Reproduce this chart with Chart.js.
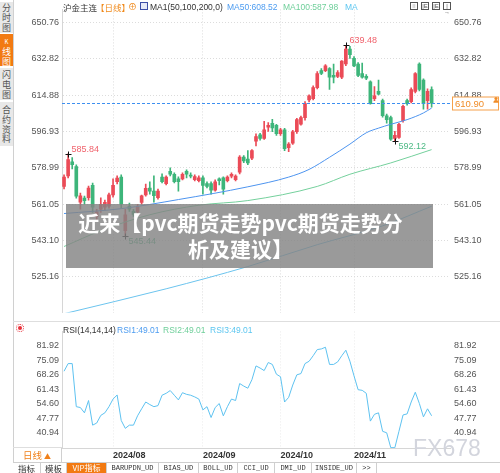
<!DOCTYPE html>
<html lang="zh-CN">
<head>
<meta charset="UTF-8">
<title>沪金主连 日线</title>
<script src="https://cdn.jsdelivr.net/npm/chart.js@4.4.1/dist/chart.umd.min.js"></script>
<style>
  * { box-sizing: border-box; margin: 0; padding: 0; }
  body { width: 500px; height: 473px; overflow: hidden; background: #fff;
         font-family: 'Liberation Sans', 'Noto Sans CJK SC', sans-serif; color: #333; }
  #wrap { position: relative; width: 500px; height: 473px; }
  canvas { position: absolute; left: 0; }
  #c-main { top: 0; }
  #c-rsi { top: 322px; }
  .abs { position: absolute; white-space: nowrap; }
  .hdr { font-size: 8.5px; line-height: 12px; top: 1px; }
  .cjk { font-family: 'Noto Sans CJK SC', sans-serif; }
  .side { position: absolute; left: 0; top: 0; width: 14px; height: 462px; border-right: 1px solid #d0d0d0; background: #fff; }
  .side div { position: absolute; left: 0; width: 13px; background: #e8e8e8; color: #555;
              font-family: 'Noto Sans CJK SC', sans-serif; font-size: 9px; line-height: 9.8px; text-align: center; }
  .side div.on { background: #f27a12; color: #fff; }
  .line { position: absolute; background: #dedede; }
  .tabs { position: absolute; left: 13px; top: 462px; width: 487px; height: 11px; border-top: 1px solid #cfcfcf; display: flex; }
  .tabs span { height: 10px; border-right: 1px solid #cfcfcf; font-size: 7px; line-height: 10px; text-align: center; color: #333;
               font-family: 'Liberation Mono', monospace; }
  .tabs span.cn { font-family: 'Noto Sans CJK SC', sans-serif; font-size: 8.5px; }
  .tabs span.vip { background: #f27a12; color: #fff; font-family: 'Noto Sans CJK SC', sans-serif; font-size: 8px; }
  .ico { position: absolute; top: 2px; width: 8px; height: 8px; border: 1px solid #555; font-size: 6px; line-height: 6px; text-align: center; color: #555; }
  #banner { position: absolute; left: 66px; top: 204px; width: 367px; height: 64px; padding: 5px 18px 0 0;
            background: rgba(132, 132, 132, 0.82); color: #fff; text-align: center;
            font-family: 'Noto Sans CJK SC', sans-serif; font-weight: 700; font-size: 21px; line-height: 26px; }
  #wm { position: absolute; left: 413px; top: 437px; font-size: 23px; line-height: 23px; color: #d3d5dd; }
</style>
</head>
<body>
<div id="wrap">
  <canvas id="c-main" width="500" height="322"></canvas>
  <canvas id="c-rsi" width="500" height="140"></canvas>

  <div class="side">
    <div style="top:2px;height:31px;padding-top:1px">分<br>时<br>图</div>
    <div class="on" style="top:34px;height:32px;padding-top:2px"><span style="font-size:6px">K</span><br>线<br>图</div>
    <div style="top:68px;height:32px;padding-top:2px">闪<br>电<br>图</div>
    <div style="top:102px;height:44px;padding-top:3px">合<br>约<br>资<br>料</div>
  </div>

  <!-- main header -->
  <span class="abs hdr cjk" style="left:63px;color:#333">沪金主连</span>
  <span class="abs hdr cjk" style="left:96px;color:#f08a1c">【日线】</span>
  <span class="abs hdr" style="left:128px;color:#f08a1c;font-size:9px">⊕</span>
  <span class="abs" style="left:140px;top:2px;width:8px;height:8px;border:1px solid #3d4fa8;background:#e6eaf8"></span>
  <span class="abs hdr" style="left:150px;color:#333">MA1(50,100,200,0)</span>
  <span class="abs hdr" style="left:227px;color:#4d9cf0">MA50:608.52</span>
  <span class="abs hdr" style="left:283px;color:#6fcf9a">MA100:587.98</span>
  <span class="abs hdr" style="left:345px;color:#5cc6f0">MA</span>
  <span class="ico" style="left:410px">⁞⁞</span>
  <span class="ico" style="left:421px">|E</span>
  <span class="ico" style="left:432px">|E</span>
  <span class="ico" style="left:443px">|→</span>

  <!-- panel separators -->
  <div class="line" style="left:13px;top:321px;width:487px;height:1px"></div>
  <div class="line" style="left:13px;top:447px;width:49px;height:1px"></div>

  <!-- rsi header -->
  <span class="abs" style="left:16px;top:324px;width:8px;height:8px;border:1px dotted #e8303a;border-radius:50%"></span>
  <span class="abs" style="left:18px;top:326px;width:4px;height:4px;background:#e8303a;border-radius:50%"></span>
  <span class="abs hdr" style="top:324px;left:63px;color:#333">RSI(14,14,14)</span>
  <span class="abs hdr" style="top:324px;left:117px;color:#4d9cf0">RSI1:49.01</span>
  <span class="abs hdr" style="top:324px;left:163px;color:#6fcf9a">RSI2:49.01</span>
  <span class="abs hdr" style="top:324px;left:210px;color:#5cc6f0">RSI3:49.01</span>

  <!-- period box -->
  <div class="abs cjk" style="left:13px;top:448px;width:49px;height:14px;border-right:1px solid #d0d0d0;
       color:#f0801a;font-size:9.5px;line-height:14px;text-align:center">日线 <span style="font-size:7px">▲</span></div>

  <div class="tabs">
    <span class="cn" style="width:28px">指标</span>
    <span class="cn" style="width:26px">模板</span>
    <span class="vip" style="width:40px">VIP指标</span>
    <span style="width:52px">BARUPDN_UD</span>
    <span style="width:40px">BIAS_UD</span>
    <span style="width:39px">BOLL_UD</span>
    <span style="width:37px">CCI_UD</span>
    <span style="width:37px">DMI_UD</span>
    <span style="width:45px">INSIDE_UD</span>
    <span style="width:20px">&gt;&gt;</span>
  </div>

  <div id="banner">近来【pvc期货走势pvc期货走势分<br>析及建议】</div>
  <div id="wm">FX678</div>
</div>

<script>
// trading days, 2024-07-16 .. 2024-11-28
const DATES = [
  '07-16','07-17','07-18','07-19','07-22','07-23','07-24','07-25','07-26','07-29','07-30','07-31',
  '08-01','08-02','08-05','08-06','08-07','08-08','08-09','08-12','08-13','08-14','08-15','08-16',
  '08-19','08-20','08-21','08-22','08-23','08-26','08-27','08-28','08-29','08-30',
  '09-02','09-03','09-04','09-05','09-06','09-09','09-10','09-11','09-12','09-13',
  '09-18','09-19','09-20','09-23','09-24','09-25','09-26','09-27','09-30',
  '10-08','10-09','10-10','10-11','10-14','10-15','10-16','10-17','10-18',
  '10-21','10-22','10-23','10-24','10-25','10-28','10-29','10-30','10-31',
  '11-01','11-04','11-05','11-06','11-07','11-08','11-11','11-12','11-13','11-14','11-15',
  '11-18','11-19','11-20','11-21','11-22','11-25','11-26','11-27','11-28'
];
const PAD_SLOTS = 4; // empty room right of the last candle

const OPEN = [
  569.8, 575.0, 582.0, 579.6, 562.0, 564.0, 564.2, 570.3, 555.0, 558.6,
  559.5, 560.0, 565.6, 572.1, 574.4, 547.9, 560.0, 557.5, 557.2, 561.9,
  565.6, 569.0, 567.5, 564.2, 574.4, 571.2, 577.2, 575.8, 573.5, 573.5,
  577.2, 575.3, 573.1, 572.6, 574.0, 571.2, 571.2, 568.0, 573.5, 574.0,
  572.6, 574.9, 573.1, 576.8, 584.3, 583.3, 583.8, 592.1, 595.3, 593.5,
  599.1, 601.0, 600.0, 595.8, 597.7, 588.9, 591.2, 596.8, 600.5, 603.8,
  612.6, 613.1, 618.6, 627.0, 627.0, 628.0, 624.7, 624.2, 623.8, 630.3,
  637.7, 633.1, 630.3, 625.6, 624.2, 621.5, 613.1, 616.8, 612.2, 604.7,
  603.8, 593.5, 594.0, 602.3, 612.2, 611.7, 616.8, 630.3, 622.4, 612.2,
  617.7
];
const HIGH = [
  575.5, 585.84, 584.0, 580.5, 566.5, 565.0, 570.0, 571.5, 558.5, 564.2,
  563.0, 566.5, 573.5, 575.0, 575.5, 558.5, 561.5, 558.5, 561.0, 565.5,
  571.0, 572.0, 575.0, 568.5, 576.0, 575.0, 579.0, 576.5, 574.5, 576.5,
  578.0, 576.5, 575.5, 575.0, 575.0, 572.0, 572.0, 573.0, 574.0, 574.5,
  575.0, 576.5, 575.5, 585.0, 585.0, 587.5, 588.0, 595.8, 596.0, 602.0,
  601.4, 603.0, 600.5, 598.5, 598.5, 591.5, 597.5, 603.5, 604.5, 611.7,
  615.0, 619.5, 626.5, 628.0, 630.0, 628.5, 630.3, 627.0, 632.0, 639.48,
  639.0, 634.0, 631.0, 630.8, 625.0, 622.0, 619.1, 622.4, 613.0, 605.5,
  604.5, 597.0, 601.0, 610.0, 613.0, 618.5, 626.0, 630.9, 623.0, 618.0,
  619.0
];
const LOW = [
  568.5, 574.0, 578.5, 564.0, 558.5, 561.0, 563.0, 557.0, 553.5, 557.0,
  558.0, 559.0, 564.5, 571.0, 559.0, 545.44, 557.5, 555.0, 556.0, 561.0,
  565.0, 566.0, 562.0, 563.5, 571.5, 570.5, 575.0, 571.5, 567.5, 573.0,
  574.0, 574.0, 572.5, 572.0, 566.0, 569.0, 566.0, 567.5, 570.5, 566.0,
  572.0, 574.0, 572.5, 576.0, 581.5, 580.5, 583.0, 589.8, 592.6, 593.0,
  597.0, 596.8, 595.0, 595.0, 587.5, 587.0, 590.5, 596.0, 600.0, 602.5,
  611.5, 612.5, 618.0, 625.0, 626.5, 617.7, 621.0, 623.5, 623.0, 629.5,
  633.0, 629.0, 624.0, 623.3, 622.5, 610.5, 612.2, 615.0, 604.0, 601.0,
  592.5, 592.12, 593.5, 601.5, 610.0, 611.0, 616.0, 617.0, 608.0, 608.0,
  609.0
];
const CLOSE = [
  574.4, 583.0, 580.5, 565.0, 565.2, 562.8, 569.0, 559.6, 557.2, 560.9,
  561.9, 565.6, 570.3, 573.9, 561.0, 555.8, 558.5, 556.0, 559.6, 565.2,
  568.9, 567.5, 565.2, 567.5, 572.1, 574.4, 575.8, 572.1, 572.1, 575.8,
  575.8, 574.9, 574.6, 574.0, 570.3, 569.8, 568.0, 572.1, 572.6, 568.4,
  574.4, 575.8, 574.9, 584.3, 582.4, 581.4, 587.5, 594.4, 593.5, 597.7,
  600.0, 598.7, 595.8, 597.7, 588.4, 590.7, 596.8, 602.8, 603.8, 610.7,
  614.5, 618.6, 625.6, 625.6, 629.4, 623.8, 623.8, 626.1, 631.7, 637.7,
  634.9, 629.4, 624.7, 623.8, 623.3, 610.7, 614.5, 615.4, 604.7, 602.8,
  593.1, 595.0, 600.5, 609.4, 610.7, 617.7, 625.6, 617.7, 610.7, 616.8,
  610.90
];

// moving averages, read where the curves could be measured
const MA50_AT  = [0, 14, 28, 45, 55, 60, 65, 70, 74, 77, 80, 84, 88, 90];
const MA50_VAL = [556.4, 558.8, 563.3, 569.6, 574.4, 578.2, 584.2, 590.7, 596.3, 598.6, 600.5, 602.8, 606.1, 608.52];
const MA100_AT  = [0, 9, 21, 33, 45, 62, 70, 80, 90];
const MA100_VAL = [540.1, 547.9, 555.8, 560.5, 562.8, 569.8, 575.8, 581.4, 587.98];
const MA200_AT  = [0, 25, 45, 62, 78, 90];
const MA200_VAL = [506.9, 519.2, 530.2, 541.0, 550.3, 560.0];

const RSI = [
  70.0, 73.6, 73.6, 53.3, 52.9, 50.4, 56.2, 44.6, 45.6, 49.2,
  50.4, 53.3, 56.9, 58.8, 46.8, 43.1, 44.6, 44.6, 49.0, 52.3,
  55.5, 54.3, 53.3, 53.8, 58.7, 59.6, 60.9, 58.7, 56.5, 59.9,
  59.1, 58.7, 57.9, 56.9, 51.8, 53.3, 48.2, 52.9, 54.8, 49.0,
  53.3, 56.9, 56.2, 64.2, 63.0, 62.0, 66.0, 72.5, 71.5, 70.3,
  74.1, 73.2, 68.6, 67.4, 55.5, 57.7, 63.5, 68.3, 68.9, 73.6,
  74.7, 77.3, 80.2, 80.5, 81.3, 73.2, 73.2, 74.4, 77.3, 79.9,
  74.7, 67.8, 61.3, 61.0, 59.6, 46.5, 49.7, 50.4, 41.7, 41.0,
  34.0, 34.0, 41.7, 49.4, 49.9, 55.5, 60.1, 54.8, 48.5, 52.3,
  49.01
];

const MAIN_TICKS = [650.76, 632.82, 614.88, 596.93, 578.99, 561.05, 543.10, 525.16];
const MAIN_MIN = 507.44, MAIN_MAX = 657.27;
const RSI_TICKS = [81.92, 75.09, 68.26, 61.43, 54.60, 47.77, 40.94];
const RSI_MIN = 33.84, RSI_MAX = 88.76;

const MONTH_IDX = [12, 34, 53, 71];
const MONTH_LABELS = ['2024/08', '2024/09', '2024/10', '2024/11'];

const LAST_PRICE = 610.90;
const MARK_IDX  = [1, 69, 15, 81];
const MARK_VAL  = [585.84, 639.48, 545.44, 592.12];
const MARK_HIGH = [true, true, false, false];

const UP = '#eb4b57', DOWN = '#3db57a';
const GRID = '#dcdcdc';

const LABELS = DATES.concat(Array(PAD_SLOTS).fill(''));
const candleColor = OPEN.map((o, i) => CLOSE[i] >= o ? UP : DOWN);

function sparse(at, vals) {
  const out = LABELS.map(() => null);
  at.forEach((idx, k) => { out[idx] = vals[k]; });
  return out;
}
function fixedTicks(values) {
  return scale => { scale.ticks = values.map(v => ({ value: v })); };
}
const tickFont = { size: 9, family: "'Liberation Sans', sans-serif" };
const monthGrid = c => MONTH_IDX.includes(c.index) ? GRID : 'rgba(0,0,0,0)';

// price line, last-price box and the high/low markers
const annotations = {
  id: 'annotations',
  afterDatasetsDraw(chart) {
    const { ctx, chartArea: a, scales: { x, y } } = chart;
    const py = Math.round(y.getPixelForValue(LAST_PRICE)) + 0.5;
    ctx.save();
    ctx.strokeStyle = '#3d8ff0';
    ctx.lineWidth = 1;
    ctx.setLineDash([3, 2]);
    ctx.beginPath(); ctx.moveTo(a.left, py); ctx.lineTo(a.right, py); ctx.stroke();
    ctx.setLineDash([]);

    ctx.fillStyle = '#fff';
    ctx.strokeStyle = '#f5a04a';
    ctx.fillRect(452.5, py - 6.5, 46, 13);
    ctx.strokeRect(452.5, py - 6.5, 46, 13);
    ctx.fillStyle = '#f08c28';
    ctx.font = "9.5px 'Liberation Sans', sans-serif";
    ctx.textBaseline = 'middle';
    ctx.textAlign = 'left';
    ctx.fillText(LAST_PRICE.toFixed(2), 455, py + 0.5);
    // tiny person glyph
    ctx.beginPath(); ctx.arc(496, py - 5, 1.6, 0, Math.PI * 2); ctx.fill();
    ctx.beginPath(); ctx.arc(496, py - 0.8, 2.6, Math.PI, 0); ctx.fill();

    ctx.font = "9px 'Liberation Sans', sans-serif";
    MARK_IDX.forEach((idx, k) => {
      const mx = Math.round(x.getPixelForValue(idx)) + 0.5;
      const my = Math.round(y.getPixelForValue(MARK_VAL[k])) + 0.5;
      ctx.strokeStyle = '#111';
      ctx.beginPath();
      ctx.moveTo(mx - 3, my); ctx.lineTo(mx + 3, my);
      ctx.moveTo(mx, my - 3); ctx.lineTo(mx, my + 3);
      ctx.stroke();
      ctx.fillStyle = MARK_HIGH[k] ? '#f0626c' : '#4cb984';
      ctx.fillText(MARK_VAL[k].toFixed(2), mx + 3, MARK_HIGH[k] ? my - 5 : my + 5);
    });
    ctx.restore();
  }
};

new Chart(document.getElementById('c-main'), {
  type: 'bar',
  data: {
    labels: LABELS,
    datasets: [
      { type: 'line', data: sparse(MA50_AT, MA50_VAL), borderColor: '#4d94ef', borderWidth: 1,
        pointRadius: 0, spanGaps: true, cubicInterpolationMode: 'monotone', order: 1 },
      { type: 'line', data: sparse(MA100_AT, MA100_VAL), borderColor: '#74d09c', borderWidth: 1,
        pointRadius: 0, spanGaps: true, cubicInterpolationMode: 'monotone', order: 1 },
      { type: 'line', data: sparse(MA200_AT, MA200_VAL), borderColor: '#6cc4ee', borderWidth: 1,
        pointRadius: 0, spanGaps: true, cubicInterpolationMode: 'monotone', order: 1 },
      { data: OPEN.map((o, i) => [o, CLOSE[i]]), backgroundColor: candleColor,
        barThickness: 3, minBarLength: 1, grouped: false, order: 2 },
      { data: LOW.map((l, i) => [l, HIGH[i]]), backgroundColor: candleColor,
        barThickness: 1, grouped: false, order: 3 }
    ]
  },
  options: {
    responsive: false, animation: false, devicePixelRatio: 1,
    layout: { padding: 0 },
    plugins: { legend: { display: false }, tooltip: { enabled: false } },
    scales: {
      x: {
        offset: true,
        grid: { offset: false, drawTicks: false, color: monthGrid },
        border: { display: false, dash: [1, 2] },
        ticks: { display: false, autoSkip: false },
        afterFit: s => { s.height = 0; }
      },
      y: {
        position: 'left', min: MAIN_MIN, max: MAIN_MAX,
        afterBuildTicks: fixedTicks(MAIN_TICKS),
        afterFit: s => { s.width = 62; },
        grid: { color: GRID, drawTicks: false },
        border: { display: true, color: '#d6d6d6', dash: [1, 2] },
        ticks: { padding: 3, color: '#555', font: tickFont, callback: v => v.toFixed(2) }
      },
      y2: {
        position: 'right', min: MAIN_MIN, max: MAIN_MAX,
        afterBuildTicks: fixedTicks(MAIN_TICKS),
        afterFit: s => { s.width = 50; },
        grid: { display: false, drawTicks: false },
        border: { display: false },
        ticks: { padding: 4, color: '#555', font: tickFont, callback: v => v.toFixed(2) }
      }
    }
  },
  plugins: [annotations]
});

new Chart(document.getElementById('c-rsi'), {
  type: 'line',
  data: {
    labels: LABELS,
    datasets: [
      { data: RSI, borderColor: '#5ec2f0', borderWidth: 1, pointRadius: 0, tension: 0 }
    ]
  },
  options: {
    responsive: false, animation: false, devicePixelRatio: 1,
    layout: { padding: 0 },
    plugins: { legend: { display: false }, tooltip: { enabled: false } },
    scales: {
      x: {
        offset: true,
        grid: { offset: false, drawTicks: false, color: c => MONTH_IDX.includes(c.index) ? '#ebebeb' : 'rgba(0,0,0,0)' },
        border: { display: true, color: '#d6d6d6', dash: [1, 2] },
        ticks: {
          autoSkip: false, maxRotation: 0, minRotation: 0, align: 'start', padding: 2,
          color: '#333', font: { size: 9, weight: 'bold', family: "'Liberation Sans', sans-serif" },
          callback: (v, i) => { const k = MONTH_IDX.indexOf(i); return k >= 0 ? MONTH_LABELS[k] : ''; }
        },
        afterFit: s => { s.height = 14; }
      },
      y: {
        position: 'left', min: RSI_MIN, max: RSI_MAX,
        afterBuildTicks: fixedTicks(RSI_TICKS),
        afterFit: s => { s.width = 62; },
        grid: { display: false, drawTicks: false },
        border: { display: true, color: '#d6d6d6' },
        ticks: { padding: 3, color: '#555', font: tickFont, callback: v => v.toFixed(2) }
      },
      y2: {
        position: 'right', min: RSI_MIN, max: RSI_MAX,
        afterBuildTicks: fixedTicks(RSI_TICKS),
        afterFit: s => { s.width = 50; },
        grid: { display: false, drawTicks: false },
        border: { display: false },
        ticks: { padding: 4, color: '#555', font: tickFont, callback: v => v.toFixed(2) }
      }
    }
  }
});
</script>
</body>
</html>
